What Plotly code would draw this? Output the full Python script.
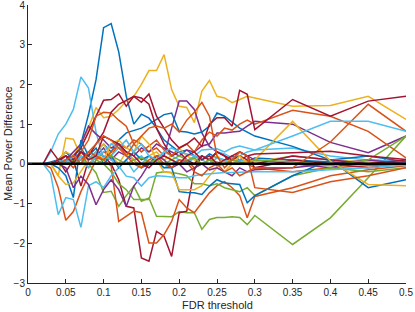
import plotly.graph_objects as go

fdr = [0.01,0.02,0.03,0.04,0.05,0.06,0.07,0.08,0.09,0.10,
       0.11,0.12,0.13,0.14,0.15,0.16,0.17,0.18,0.19,0.20,
       0.21,0.22,0.23,0.24,0.25,0.26,0.27,0.28,0.29,0.30,
       0.35,0.40,0.45,0.50]

x_ticks = [0,0.05,0.1,0.15,0.2,0.25,0.3,0.35,0.4,0.45,0.5]
x_tick_labels = ["0","0.05","0.1","0.15","0.2","0.25","0.3","0.35","0.4","0.45","0.5"]
y_ticks = [-3,-2,-1,0,1,2,3,4]

blue_1 = [0,0,0,0.1,0.3,0.1,0.5,1.24,2.12,3.43,3.53,2.82,1.70,1.0,1.25,1.15,0.9,0.6,0.45,0.3,0.35,0.2,0.1,0.25,0.15,0.1,0.2,0.1,0.05,0.15,0.1,0.05,0.0,0.05]
blue_2 = [0,0,0.05,0.1,0.0,0.2,0.4,0.1,0.3,0.5,0.3,0.6,0.78,0.85,0.9,1.0,1.12,1.24,1.28,0.82,0.8,0.75,0.8,0.95,1.28,1.2,1.05,0.9,0.8,0.7,0.44,0.1,0.2,0.05]
blue_3 = [0,0,0,-0.1,-0.3,-0.85,0.6,0.2,0.4,0.0,0.2,-0.1,0.1,0.3,0.1,0.2,0.05,-0.1,-0.1,-0.7,-0.72,-0.73,-0.77,-0.56,-0.4,-0.48,-0.5,-0.52,-0.98,-0.8,-0.3,0.1,-0.6,-0.4]
orange_1 = [0,0,-0.1,-0.6,-1.42,-1.2,-0.7,-0.3,0.1,0.3,0.2,0.5,0.4,0.6,0.5,0.3,0.4,0.2,0.1,0.0,0.1,-0.1,0.0,0.1,-0.05,0.0,0.1,0.05,0.0,-0.1,-0.2,-0.1,-0.05,0.0]
orange_2 = [0,0,0,0.05,0.1,-0.1,0.2,0.0,0.15,0.1,-0.05,-1.45,-1.32,-1.19,-1.23,-1.99,-1.99,-1.78,-1.45,-0.9,-1.11,-1.23,-0.98,-0.73,-0.55,-0.45,-0.6,-0.8,-1.36,-0.82,-0.6,-0.3,-0.15,-0.05]
orange_3 = [0,0,0,0.1,0.2,0.0,0.3,0.6,1.2,1.3,1.28,1.1,0.95,0.5,0.3,0.45,0.6,0.35,0.2,0.4,0.5,0.3,0.6,0.8,0.7,0.9,0.85,1.0,1.1,1.0,1.35,1.2,0.82,0.15]
orange_4 = [0,0,0,0.1,0.0,0.2,0.1,0.3,0.2,0.1,0.3,0.5,0.2,0.0,-0.1,0.1,0.2,0.0,-0.1,0.1,0.05,-0.2,-0.3,-0.1,0.0,-0.2,-0.1,-0.3,-0.2,-0.1,-0.1,0.55,1.5,0.82]
orange_5 = [0,0,0,0,0.1,0.2,0.0,0.3,0.5,0.7,0.6,0.4,0.2,0.5,0.7,0.9,0.95,0.9,1.0,0.8,1.1,1.3,1.55,1.2,0.2,-0.1,0.1,0.3,0.2,-0.6,-0.72,-0.45,-0.3,-0.1]
yellow_1 = [0,0,0,0.1,0.3,0.2,0.5,0.9,1.42,1.16,1.2,1.37,1.58,1.7,2.0,2.35,2.35,2.75,1.87,1.45,1.42,1.04,1.83,2.1,1.70,1.66,1.54,1.62,1.70,1.66,1.45,1.47,1.70,1.12]
yellow_2 = [0,0,0,-0.3,0.65,0.62,0.2,-0.1,0.3,0.5,0.2,0.0,0.3,0.1,-0.1,0.2,0.3,0.1,0.2,0.4,0.2,0.1,0.0,0.1,0.2,0.05,0.1,0.0,0.1,0.05,0.2,0.1,0.05,0.0]
yellow_3 = [0,0,0,-0.3,-0.52,-0.48,-0.2,0.1,0.3,0.1,0.5,0.6,0.4,0.3,0.7,0.5,0.1,-0.2,-0.23,-0.65,-0.65,-0.65,-0.55,-0.3,-0.1,-0.2,0.0,0.2,0.0,0.1,1.07,0.07,-0.52,-0.55]
purple_1 = [0,0,0,0.1,0.2,0.0,0.1,0.3,0.2,0.4,0.1,0.3,0.2,0.1,-0.1,0.0,0.2,0.2,0.9,1.58,1.58,1.37,0.78,0.44,0.3,0.2,0.1,0.3,0.2,0.1,0.0,-0.1,0.1,0.05]
purple_2 = [0,0,0,0,0.1,0.3,0.5,0.95,0.75,0.6,0.4,0.5,0.3,0.2,0.4,0.3,0.5,0.4,0.3,0.2,0.35,0.3,0.45,0.5,0.78,0.78,0.8,0.82,0.95,1.07,1.0,0.54,0.28,0.70]
purple_3 = [0,0,0,0,-0.1,-0.6,-0.31,-0.52,-1.03,-0.65,-0.4,-0.65,-1.07,-0.56,-0.31,0.0,0.2,0.1,-0.1,0.0,-0.2,-0.1,0.0,-0.15,-0.1,-0.2,-0.3,-0.1,-0.2,-0.15,-0.1,0.0,0.1,0.0]
green_1 = [0,0,0,0,0.05,0.05,0.1,0.0,-0.23,-0.72,-0.69,-1.07,-0.8,-0.56,-0.94,-0.86,-1.32,-1.33,-1.33,-1.2,-1.23,-1.23,-1.65,-1.4,-1.35,-1.35,-1.33,-1.35,-1.53,-1.3,-2.03,-1.36,-0.35,0.7]
green_2 = [0,0,0,0,0,0.1,0.0,0.2,0.1,0.0,-0.2,-0.5,-0.65,-0.9,-0.9,-0.9,-0.23,-0.2,-0.22,-0.25,-0.3,-0.5,-0.5,-0.55,-0.5,-0.6,-0.65,-0.7,-0.6,-0.8,-0.3,-0.1,-0.2,-0.1]
green_3 = [0,0,0,0,0.05,0.0,0.1,0.2,0.0,0.1,0.2,0.1,0.0,0.1,0.15,0.05,0.1,0.0,0.1,0.2,0.1,0.15,0.0,0.1,0.05,0.0,0.1,0.05,0.0,0.1,0.05,-0.05,0.1,0.7]
lightblue_1 = [0,0,0.3,0.75,1.0,1.37,2.19,1.91,0.8,0.1,0.2,0.4,0.3,0.1,0.2,0.0,0.1,0.3,0.2,0.1,0.0,0.15,0.2,0.1,0.3,0.25,0.15,0.2,0.3,0.35,0.4,0.2,0.1,0.05]
lightblue_2 = [0,0,-0.25,-1.28,-0.85,-0.9,-1.6,-0.55,-0.45,-0.6,-0.3,-0.1,0.1,-0.2,0.0,0.2,0.1,-0.1,0.0,0.1,0.05,0.2,0.1,0.0,0.15,0.1,0.0,0.1,0.05,0.0,0.2,0.1,0.0,-0.05]
lightblue_3 = [0,0,0,0.05,0.1,0.0,0.2,0.1,0.3,0.2,0.1,-0.06,-0.31,-0.35,-0.56,-0.35,-0.3,-0.31,-0.33,-0.35,-0.35,-0.3,-0.27,-0.25,-0.24,-0.22,-0.22,-0.21,-0.21,-0.2,-0.2,-0.15,-0.1,-0.02]
lightblue_4 = [0,0,0,0.1,0.0,0.2,0.1,-0.1,0.2,0.3,0.5,0.4,0.6,0.3,0.5,0.2,0.1,0.3,0.4,0.3,0.25,0.2,0.35,0.36,0.38,0.3,0.4,0.45,0.4,0.35,0.70,1.07,1.07,0.82]
darkred_1 = [0,0,0.36,0.1,-0.2,0.1,-0.56,0.1,0.3,0.2,0.0,-0.4,-1.07,-1.11,-2.37,-2.45,-1.70,-1.82,-2.33,-1.23,-1.19,-0.15,0.2,0.1,0.3,0.2,0.0,0.1,0.2,-0.1,0.1,0.0,-0.1,0.0]
darkred_2 = [0,0,0,0.1,0.0,0.2,0.4,0.8,1.2,1.6,1.62,1.76,1.45,1.7,1.66,1.5,0.9,0.5,0.2,0.3,0.1,0.0,0.2,0.1,0.3,0.2,0.1,0.2,0.1,0.0,0.2,0.1,0.0,0.1]
darkred_3 = [0,0,0,0.05,0.2,0.1,0.3,0.2,0.5,0.8,1.3,1.5,1.6,1.7,1.55,1.76,1.2,0.9,0.6,0.4,0.5,0.65,0.44,1.0,1.16,1.16,0.95,1.85,1.75,0.86,1.62,1.2,1.58,1.70]
darkred_4 = [0,0,0.0,0.1,0.2,0.0,0.3,0.1,0.2,0.7,0.6,0.5,0.3,0.2,0.0,-0.1,0.1,0.2,0.1,0.0,0.2,0.3,0.1,0.2,0.0,0.1,0.2,0.3,0.2,0.25,0.28,0.32,0.2,0.11]

BLUE, ORANGE, YELLOW, PURPLE = "#0072BD", "#D95319", "#EDB120", "#7E2F8E"
GREEN, LIGHTBLUE, DARKRED = "#77AC30", "#4DBEEE", "#A2142F"

series = [
    (blue_1, BLUE), (orange_1, ORANGE), (yellow_1, YELLOW), (purple_1, PURPLE),
    (green_1, GREEN), (lightblue_1, LIGHTBLUE), (darkred_1, DARKRED),
    (blue_2, BLUE), (orange_2, ORANGE), (yellow_2, YELLOW), (purple_2, PURPLE),
    (green_2, GREEN), (lightblue_2, LIGHTBLUE), (darkred_2, DARKRED),
    (blue_3, BLUE), (orange_3, ORANGE), (yellow_3, YELLOW), (purple_3, PURPLE),
    (green_3, GREEN), (lightblue_3, LIGHTBLUE), (darkred_3, DARKRED),
    (orange_4, ORANGE), (lightblue_4, LIGHTBLUE), (darkred_4, DARKRED), (orange_5, ORANGE),
]

fig = go.Figure()
for vals, col in series:
    fig.add_trace(go.Scatter(x=fdr, y=vals, mode="lines",
                             line=dict(color=col, width=1.5), showlegend=False,
                             hoverinfo="skip"))

fig.add_trace(go.Scatter(x=[0, 0.5], y=[0, 0], mode="lines",
                         line=dict(color="black", width=2.5), showlegend=False,
                         hoverinfo="skip"))

axis_color = "#262626"
L, R, T, B = 28, 9, 5, 29
W, H = 415, 312
pw, ph = W - L - R, H - T - B

fig.update_layout(
    width=W, height=H,
    margin=dict(l=L, r=R, t=T, b=B),
    paper_bgcolor="white", plot_bgcolor="white",
    font=dict(family="Liberation Sans, Arial, sans-serif", size=10, color=axis_color),
    xaxis=dict(range=[0, 0.5], tickvals=x_ticks, ticktext=x_tick_labels,
               ticks="inside", ticklen=4, tickcolor=axis_color, showline=True,
               linecolor=axis_color, linewidth=1, showgrid=False, zeroline=False,
               automargin=False, ticklabeloverflow="allow", tickfont=dict(size=10)),
    yaxis=dict(range=[-3, 4], tickvals=y_ticks,
               ticks="inside", ticklen=4, tickcolor=axis_color, showline=True,
               linecolor=axis_color, linewidth=1, showgrid=False, zeroline=False,
               automargin=False, ticklabeloverflow="allow", tickfont=dict(size=10)),
    annotations=[
        dict(text="FDR threshold", xref="paper", yref="paper",
             x=0.5, y=-(305 - (H - B)) / ph, xanchor="center", yanchor="middle",
             showarrow=False, font=dict(size=11, color=axis_color)),
        dict(text="Mean Power Difference", xref="paper", yref="paper",
             x=-(L - 8) / pw, y=0.5, xanchor="center", yanchor="middle",
             textangle=-90, showarrow=False, font=dict(size=11, color=axis_color)),
    ],
)

fig.write_html("out.html", config={"displayModeBar": False},
               post_script="document.body.style.margin='0';document.body.style.padding='0';document.body.style.overflow='hidden';")
